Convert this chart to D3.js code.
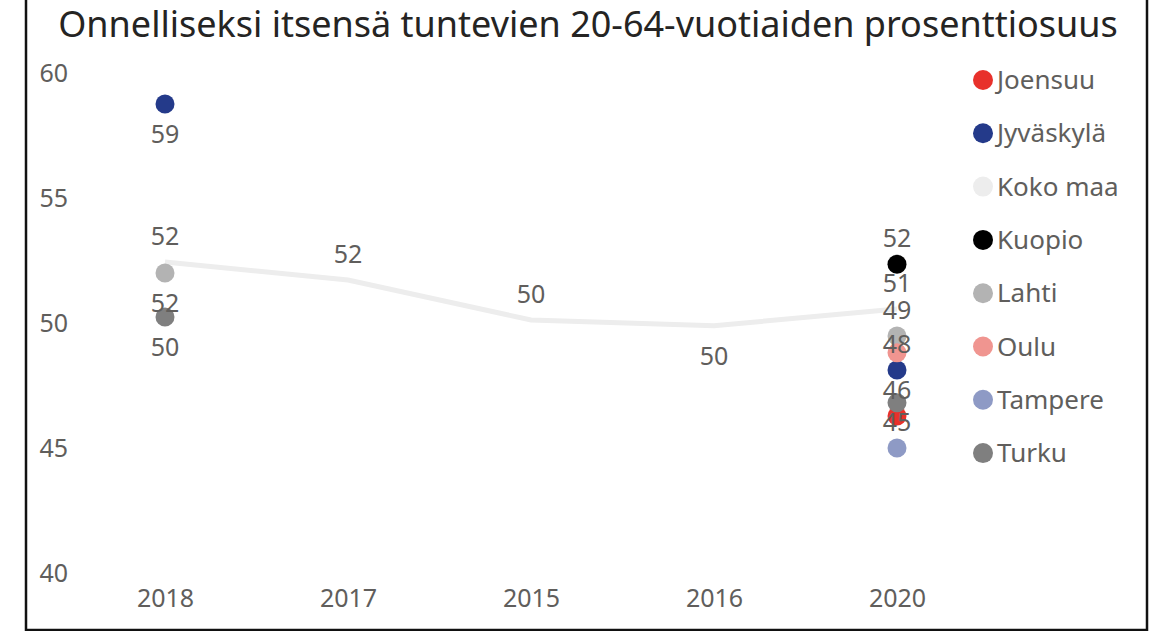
<!DOCTYPE html>
<html>
<head>
<meta charset="utf-8">
<script src="https://cdn.jsdelivr.net/npm/d3@7"></script>
<style>
  html, body { margin: 0; padding: 0; background: #fff; }
  svg { display: block; }
  text { font-family: "Noto Sans", "Open Sans", sans-serif; }
</style>
</head>
<body>
<svg id="chart" width="1151" height="631"></svg>
<script>
// ---- data ----
const title = "Onnelliseksi itsensä tuntevien 20-64-vuotiaiden prosenttiosuus";
const categories = ["2018", "2017", "2015", "2016", "2020"];
const yTicks = [40, 45, 50, 55, 60];
const seriesNames = ["Joensuu", "Jyväskylä", "Koko maa", "Kuopio", "Lahti", "Oulu", "Tampere", "Turku"];
const joensuu  = [null, null, null, null, 46.28];
const jyvaskyla = [58.76, null, null, null, 48.12];
const kokoMaa  = [52.44, 51.72, 50.12, 49.89, 50.56];
const kuopio   = [null, null, null, null, 52.35];
const lahti    = [52.0, null, null, null, 49.48];
const oulu     = [null, null, null, null, 48.81];
const tampere  = [null, null, null, null, 45.0];
const turku    = [50.24, null, null, null, 46.81];
const seriesValues = [joensuu, jyvaskyla, kokoMaa, kuopio, lahti, oulu, tampere, turku];
const seriesColors = ["#E8312B", "#243A8A", "#EDEDED", "#000000", "#B3B3B3", "#F09590", "#8E9AC5", "#7F7F7F"];
// label placement per series/category: "a" above, "b" below, "-" hidden
const labelPlacement = [
  ["-", "-", "-", "-", "a"],
  ["b", "-", "-", "-", "a"],
  ["a", "a", "a", "b", "a"],
  ["-", "-", "-", "-", "a"],
  ["b", "-", "-", "-", "a"],
  ["-", "-", "-", "-", "-"],
  ["-", "-", "-", "-", "a"],
  ["b", "-", "-", "-", "-"]
];
const lineSeries = "Koko maa";

// ---- drawing ----
const svg = d3.select("#chart");
const textColor = "#605E5C";

// frame
svg.append("rect").attr("x", 26).attr("y", -2).attr("width", 1121).attr("height", 632)
  .attr("fill", "#fff").attr("stroke", "#111").attr("stroke-width", 2.5);

// title
const t = svg.append("text").attr("x", 588).attr("y", 37).attr("text-anchor", "middle")
  .attr("fill", "#252423").style("font-size", "32px").text(title);
const tw = t.node().getComputedTextLength();
t.style("font-size", (32 * 1060 / tw) + "px");

const x = d3.scalePoint().domain(categories).range([165, 897]);
const y = d3.scaleLinear().domain([40, 60]).range([573, 73]);

// y axis
const yAxis = svg.append("g").attr("transform", "translate(70,0)")
  .call(d3.axisLeft(y).tickValues(yTicks).tickSize(0).tickPadding(2).tickFormat(d3.format("d")));
yAxis.select(".domain").remove();
yAxis.selectAll("text").attr("fill", textColor).style("font-size", "25px")
  .style("font-family", "'Noto Sans', sans-serif").attr("dy", "0.35em");

// x axis
const xAxis = svg.append("g").attr("transform", "translate(0,598)")
  .call(d3.axisBottom(x).tickSize(0).tickPadding(0));
xAxis.select(".domain").remove();
xAxis.selectAll("text").attr("fill", textColor).style("font-size", "25px")
  .style("font-family", "'Noto Sans', sans-serif").attr("dy", "0.35em");

const series = seriesNames.map((name, i) => ({
  name, color: seriesColors[i],
  points: categories.map((c, j) => ({ c, v: seriesValues[i][j], pl: labelPlacement[i][j] }))
    .filter(p => p.v !== null)
}));

// line
const lineGen = d3.line().x(d => x(d.c)).y(d => y(d.v));
series.filter(s => s.name === lineSeries).forEach(s => {
  svg.append("path").datum(s.points).attr("d", lineGen)
    .attr("fill", "none").attr("stroke", s.color).attr("stroke-width", 5);
});

// markers
series.filter(s => s.name !== lineSeries).forEach(s => {
  svg.append("g").selectAll("circle").data(s.points).join("circle")
    .attr("cx", d => x(d.c)).attr("cy", d => y(d.v)).attr("r", 9.5)
    .attr("fill", s.color);
});

// data labels
const fmt = d3.format(".0f");
series.forEach(s => {
  svg.append("g").selectAll("text").data(s.points.filter(p => p.pl !== "-")).join("text")
    .attr("x", d => x(d.c))
    .attr("y", d => y(d.v) + (d.pl === "a" ? -26 : 30))
    .attr("dy", "0.35em").attr("text-anchor", "middle")
    .attr("fill", textColor).style("font-size", "25px")
    .text(d => fmt(d.v));
});

// legend
const lg = svg.append("g");
seriesNames.forEach((name, i) => {
  const yy = 80 + i * 53.3;
  lg.append("circle").attr("cx", 983).attr("cy", yy).attr("r", 10).attr("fill", seriesColors[i]);
  lg.append("text").attr("x", 997).attr("y", yy).attr("dy", "0.35em")
    .attr("fill", textColor).style("font-size", "26px").text(name);
});
</script>
</body>
</html>
